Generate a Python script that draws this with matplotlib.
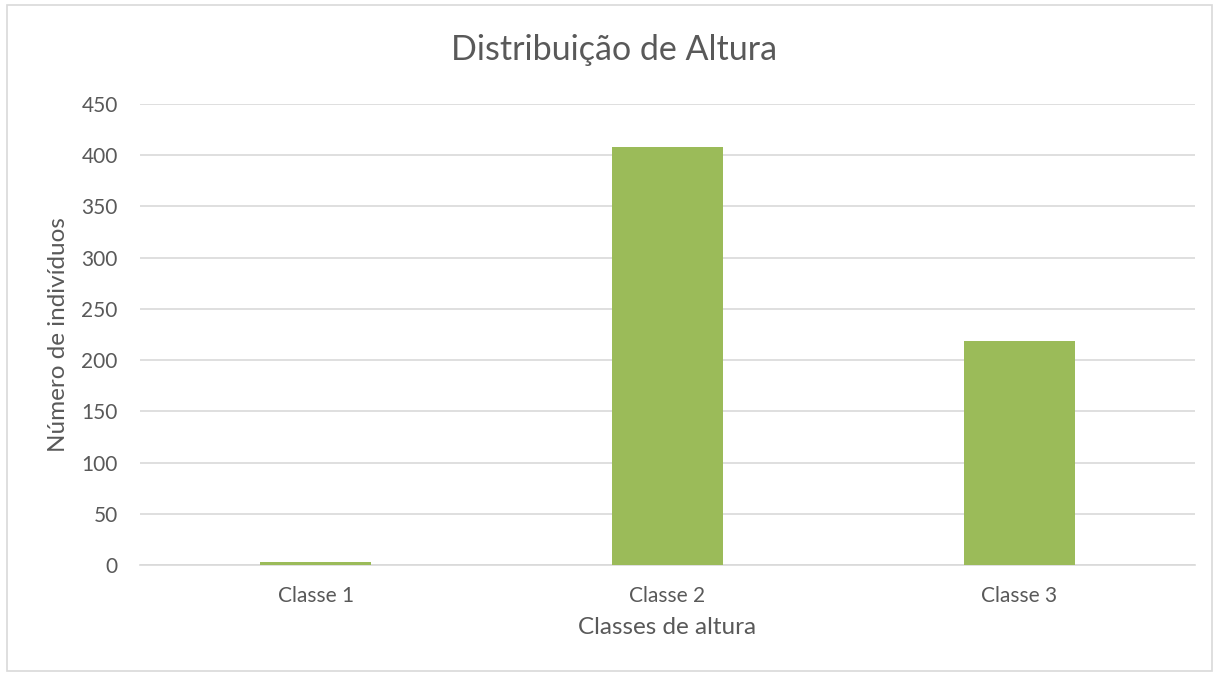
import matplotlib
matplotlib.use("Agg")
import matplotlib.pyplot as plt
from matplotlib.patches import Rectangle

categories = ["Classe 1", "Classe 2", "Classe 3"]
values = [3, 408, 219]
yticks = [0, 50, 100, 150, 200, 250, 300, 350, 400, 450]

plt.rcParams['font.family'] = ['Lato', 'DejaVu Sans']
txt = '#595959'

fig = plt.figure(figsize=(12.17, 6.76), dpi=100)
fig.patches.append(Rectangle((7/1217, 5/676), (1212-7)/1217, (671-5)/676, transform=fig.transFigure,
                             fill=False, edgecolor='#D9D9D9', linewidth=1.2))
ax = fig.add_axes([140/1217, 1-565/676, (1195-140)/1217, (565-104)/676])
x = range(len(categories))
ax.bar(x, values, width=0.316, color='#9BBB59', zorder=3)
ax.set_xlim(-0.5, 2.5)
ax.set_ylim(0, 450)
ax.set_yticks(yticks)
ax.set_xticks(list(x))
ax.set_xticklabels(categories)
ax.grid(axis='y', color='#D9D9D9', linewidth=1.2, zorder=0)
for s in ['top', 'right', 'left']:
    ax.spines[s].set_visible(False)
ax.spines['bottom'].set_color('#D9D9D9')
ax.spines['bottom'].set_linewidth(1.2)
ax.tick_params(axis='both', length=0, colors=txt, labelsize=15)
ax.tick_params(axis='x', pad=15)
ax.tick_params(axis='y', pad=16)
ax.set_xlabel("Classes de altura", color=txt, fontsize=17.5, labelpad=8)
ax.set_ylabel("Número de indivíduos", color=txt, fontsize=17.5, labelpad=9)
fig.text(614/1217, 1-50/676, "Distribuição de Altura", ha='center', va='center', color=txt, fontsize=24.5)
fig.savefig("out.png", dpi=100)
